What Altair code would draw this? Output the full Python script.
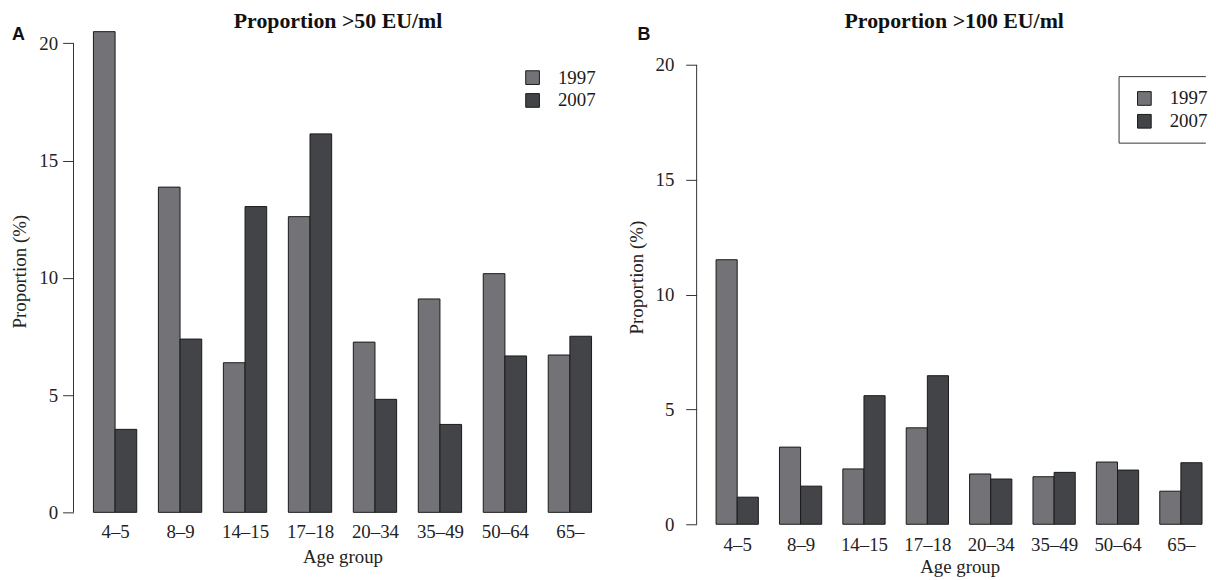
import json
import altair as alt
import pandas as pd

# ---------------- data ----------------
ages = ["4–5", "8–9", "14–15", "17–18", "20–34", "35–49", "50–64", "65–"]
years = ["1997", "2007"]
p50_1997 = [20.5, 13.87, 6.38, 12.61, 7.26, 9.1, 10.18, 6.71]
p50_2007 = [3.54, 7.39, 13.04, 16.14, 4.82, 3.75, 6.67, 7.51]
p100_1997 = [11.52, 3.36, 2.41, 4.2, 2.19, 2.07, 2.71, 1.44]
p100_2007 = [1.18, 1.66, 5.6, 6.47, 1.97, 2.26, 2.36, 2.68]
y_ticks = [0, 5, 10, 15, 20]
titles = ["Proportion >50 EU/ml", "Proportion >100 EU/ml"]
tags = ["A", "B"]

SERIF = "Liberation Serif"
SANS = "Liberation Sans"
C97 = "#737377"
C07 = "#434447"
INK = "#1a1a1a"


def frame(v97, v07):
    rows = []
    for gi, age in enumerate(ages):
        for yi, (yr, vals) in enumerate(zip(years, [v97, v07])):
            rows.append({"age": age, "gi": gi, "yi": yi, "year": yr, "value": vals[gi]})
    return pd.DataFrame(rows)


centers = [gi * 3 + 2 for gi in range(len(ages))]
label_expr = json.dumps(ages, ensure_ascii=False) + "[round((datum.value - 2) / 3)]"


def text_layer(txt, x, y, font, size, weight, align):
    return (
        alt.Chart(pd.DataFrame({"t": [txt]}))
        .mark_text(font=font, fontWeight=weight, fontSize=size, align=align,
                   baseline="alphabetic", color="#111111")
        .encode(text="t:N", x=alt.value(x), y=alt.value(y))
    )


def panel(df, title, tag, W, H, xmax, ymax, lx, ly, lab_pad, tit_pad, ylab_pad, ytit_pad,
          anchor, tag_x, title_dx, box=None, title_x=None):
    xscale = alt.Scale(domain=[0.08, xmax], nice=False, zero=False)
    yscale = alt.Scale(domain=[0, ymax], nice=False, zero=False)
    xaxis_kw = dict(
        values=centers, labelExpr=label_expr, title="Age group", ticks=False,
        domain=False, grid=False, labelPadding=lab_pad, titlePadding=tit_pad,
        labelAngle=0,
    )
    if title_x is not None:
        xaxis_kw["titleX"] = title_x
    color = alt.Color(
        "year:N",
        scale=alt.Scale(domain=years, range=[C97, C07]),
        legend=alt.Legend(
            title=None, orient="none", legendX=lx, legendY=ly, symbolType="square",
            symbolSize=190, symbolStrokeColor=INK, symbolStrokeWidth=1,
            symbolOpacity=1, labelFont=SERIF, labelFontSize=19, labelOffset=16,
            rowPadding=3, padding=0, labelColor=INK,
        ),
    )
    bars = (
        alt.Chart(df)
        .transform_calculate(x0="datum.gi * 3 + 1 + datum.yi", x1="datum.gi * 3 + 2 + datum.yi")
        .mark_bar(stroke=INK, strokeWidth=1, opacity=1)
        .encode(
            x=alt.X("x0:Q", scale=xscale, axis=alt.Axis(**xaxis_kw)),
            x2="x1:Q",
            y=alt.Y(
                "value:Q", scale=yscale,
                axis=alt.Axis(values=y_ticks, title="Proportion (%)", domain=False,
                              grid=False, tickSize=11, labelPadding=ylab_pad,
                              titlePadding=ytit_pad),
            ),
            y2=alt.datum(0),
            color=color,
        )
    )
    rule = (
        alt.Chart(pd.DataFrame({"lo": [y_ticks[0]], "hi": [y_ticks[-1]]}))
        .mark_rule(color="#333333", strokeWidth=1)
        .encode(y=alt.Y("lo:Q", scale=yscale), y2="hi:Q", x=alt.value(0))
    )
    # invisible anchor fixing the panel's top-left bound
    anchor_mark = (
        alt.Chart(pd.DataFrame({"b": [1]}))
        .mark_rect(opacity=0)
        .encode(x=alt.value(anchor[0]), x2=alt.value(anchor[0] + 1),
                y=alt.value(anchor[1]), y2=alt.value(anchor[1] + 1))
    )
    layers = [
        anchor_mark,
        bars,
        rule,
        text_layer(tag, tag_x, 10, SANS, 18, "bold", "left"),
        text_layer(title, W / 2 + title_dx, -2, SERIF, 22, "bold", "center"),
    ]
    if box is not None:
        layers.append(
            alt.Chart(pd.DataFrame({"b": [1]}))
            .mark_rect(fillOpacity=0, stroke="#333333", strokeWidth=1, clip=True)
            .encode(x=alt.value(box[0]), x2=alt.value(box[1]),
                    y=alt.value(box[2]), y2=alt.value(box[3]))
        )
    return alt.layer(*layers).properties(width=W, height=H)


left = panel(
    frame(p50_1997, p50_2007), titles[0], tags[0],
    W=542, H=486, xmax=24.92, ymax=20.571, lx=453, ly=38.5, lab_pad=10.5, tit_pad=6.5,
    ylab_pad=5, ytit_pad=9.5, anchor=(-66, -20), tag_x=-62, title_dx=-4.5,
)
right = panel(
    frame(p100_1997, p100_2007), titles[1], tags[1],
    W=513, H=498, xmax=24.18, ymax=21.525, lx=441.6, ly=59.5, lab_pad=11.5, tit_pad=3.5,
    ylab_pad=12, ytit_pad=8.5, anchor=(-76.4, -20), tag_x=-59.7, title_dx=3,
    box=(425.6, 560, 47, 114), title_x=265,
)

chart = (
    alt.hconcat(left, right, spacing=8.8)
    .resolve_scale(color="independent")
    .configure_view(stroke=None)
    .configure_axis(
        labelFont=SERIF, labelFontSize=19, labelColor="#222222",
        titleFont=SERIF, titleFontSize=19, titleFontWeight="normal", titleColor="#222222",
        tickColor="#333333",
    )
    .properties(padding={"left": 0, "top": 0, "right": 0, "bottom": 0}, background="white")
)

chart.save("out.html", embed_options={"renderer": "svg", "actions": False})
